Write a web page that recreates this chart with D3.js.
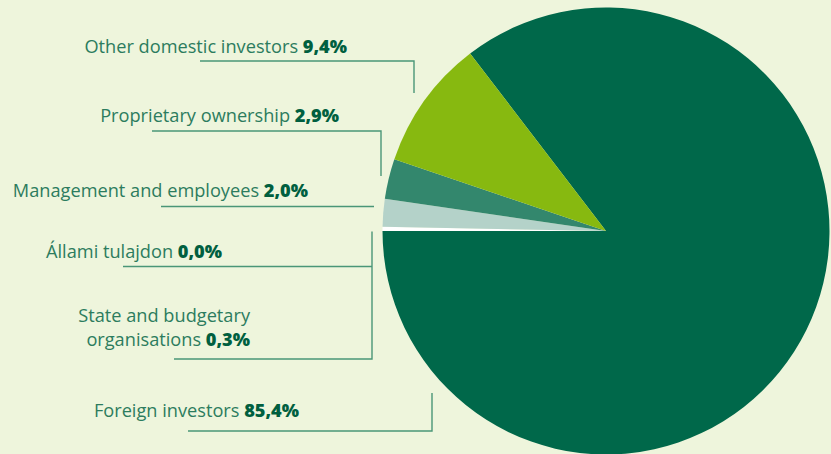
<!DOCTYPE html>
<html>
<head>
<meta charset="utf-8">
<script src="https://cdn.jsdelivr.net/npm/d3@7"></script>
<style>
  body { margin: 0; background: #eef5dc; }
  svg { display: block; }
  .lbl { font-family: "Open Sans", Lato, sans-serif; font-size: 18.2px; fill: #2c7c5e; }
  .lbl .val { font-weight: 800; fill: #005f3f; }
</style>
</head>
<body>
<div id="chart"></div>
<script>
// shares of ownership, %
const categories = ["Foreign investors", "State and budgetary organisations", "Állami tulajdon",
                    "Management and employees", "Proprietary ownership", "Other domestic investors"];
const shares = [85.4, 0.3, 0.0, 2.0, 2.9, 9.4];
const shareLabels = ["85,4%", "0,3%", "0,0%", "2,0%", "2,9%", "9,4%"];
const colors = ["#00684a", "#ffffff", "#ffffff", "#b4d2c9", "#33876d", "#87b910"];

const width = 831, height = 454;
const cx = 606, cy = 231, r = 223.5;

const svg = d3.select("#chart")
  .append("svg")
  .attr("width", width)
  .attr("height", height);

svg.append("rect").attr("width", width).attr("height", height).attr("fill", "#eef5dc");

const data = categories.map((c, i) => ({name: c, value: shares[i], label: shareLabels[i], color: colors[i]}));
const total = d3.sum(shares);

// foreign investors slice ends at 9 o'clock, rest follow clockwise
const start = 1.5 * Math.PI - 2 * Math.PI * shares[0] / total;
const pie = d3.pie().value(d => d.value).sort(null)
  .startAngle(start).endAngle(start + 2 * Math.PI);
const arc = d3.arc().innerRadius(0).outerRadius(r);

svg.append("g")
  .attr("transform", `translate(${cx},${cy})`)
  .selectAll("path")
  .data(pie(data))
  .join("path")
  .attr("d", arc)
  .attr("fill", d => d.data.color);

// label placement (text right edge, baselines, leader line)
const layout = {
  "Other domestic investors": {x: 347, y: [53], line: [[200, 61], [414, 61], [414, 93]]},
  "Proprietary ownership": {x: 339, y: [122], line: [[152, 131], [381, 131], [381, 176]]},
  "Management and employees": {x: 308, y: [197], line: [[161, 206.5], [374, 206.5]]},
  "Állami tulajdon": {x: 222, y: [258], line: [[123, 266.5], [372, 266.5]]},
  "State and budgetary organisations": {x: 250, y: [322, 346], split: ["State and budgetary", "organisations"],
      line: [[174, 359], [372, 359], [372, 231.5]]},
  "Foreign investors": {x: 299, y: [417], line: [[188, 431], [432, 431], [432, 393]]}
};

const lineGen = d3.line();
const labels = svg.append("g");

data.forEach(d => {
  const L = layout[d.name];
  labels.append("path")
    .attr("d", lineGen(L.line))
    .attr("fill", "none")
    .attr("stroke", "#4a9677")
    .attr("stroke-width", 1.4);

  const lines = L.split || [d.name];
  lines.forEach((t, i) => {
    const txt = labels.append("text")
      .attr("class", "lbl")
      .attr("x", L.x)
      .attr("y", L.y[i])
      .attr("text-anchor", "end");
    txt.append("tspan").text(t);
    if (i === lines.length - 1) {
      txt.append("tspan").attr("class", "val").text(" " + d.label);
    }
  });
});
</script>
</body>
</html>
